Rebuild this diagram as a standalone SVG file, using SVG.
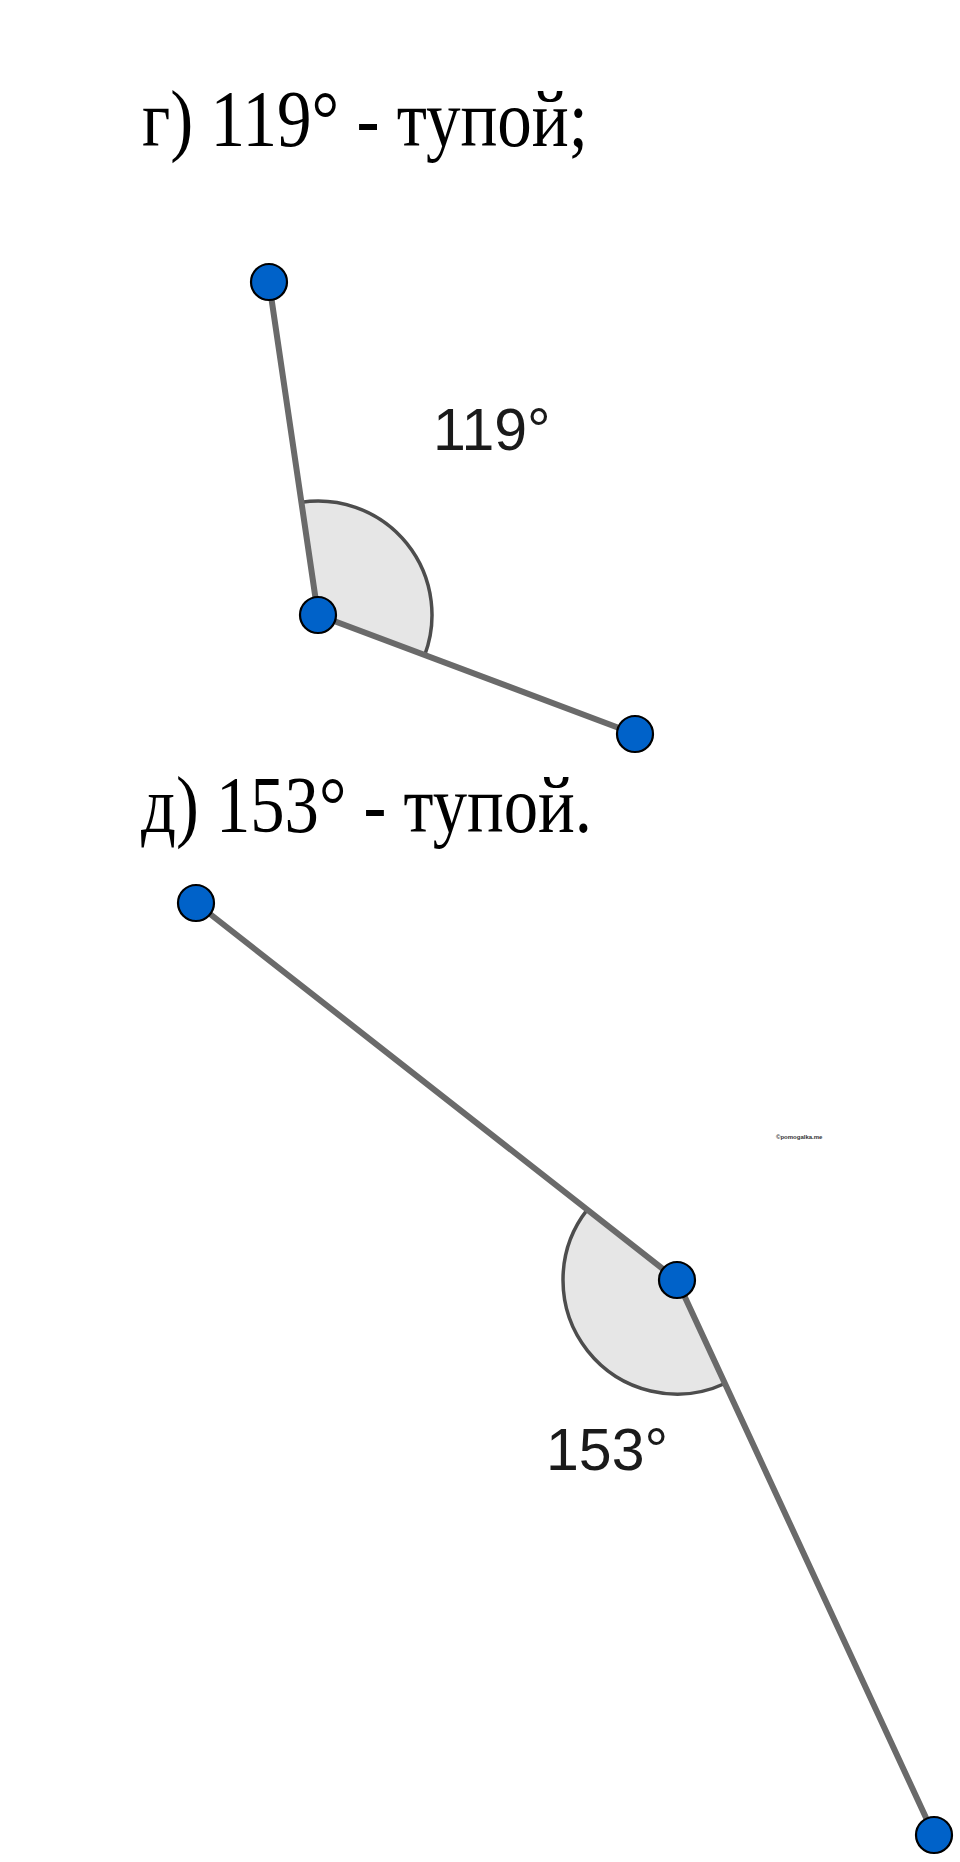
<svg xmlns="http://www.w3.org/2000/svg" width="960" height="1862" viewBox="0 0 960 1862">
<style>
.title{font-family:"Liberation Serif","Times New Roman",serif;font-size:81px;fill:#000}
.lbl{font-family:"Liberation Sans",Arial,sans-serif;font-size:59px;fill:#1a1a1a}
.seg{stroke:#6a6a6a;stroke-width:6;stroke-linecap:round;fill:none}
.sector{fill:#e6e6e6;stroke:#4d4d4d;stroke-width:3.5;stroke-linejoin:round}
.pt{fill:#0062C9;stroke:#000;stroke-width:2.2}
.wm{font-family:"Liberation Sans",Arial,sans-serif;font-size:6px;font-weight:bold;fill:#333}
</style>
<rect width="960" height="1862" fill="#fff"/>
<g id="title-g"><text class="title" x="142" y="146" textLength="446" lengthAdjust="spacingAndGlyphs">г) 119° - тупой;</text></g>
<g id="title-d"><text class="title" x="141" y="832" textLength="451" lengthAdjust="spacingAndGlyphs">д) 153° - тупой.</text></g>

<g id="sector-119"><path class="sector" d="M318,615 L301.4,502.2 A114,114 0 0 1 424.7,655.1 Z"/></g>
<g id="sector-153"><path class="sector" d="M677,1280 L587.3,1209.7 A114,114 0 0 0 724.9,1383.5 Z"/></g>

<g id="connectors">
<line class="seg" x1="269" y1="282" x2="318" y2="615"/>
<line class="seg" x1="318" y1="615" x2="635" y2="734"/>
<line class="seg" x1="196" y1="903" x2="677" y2="1280"/>
<line class="seg" x1="677" y1="1280" x2="934" y2="1835"/>
</g>

<g id="p1-top"><circle class="pt" cx="269" cy="282" r="18"/></g>
<g id="p1-vertex"><circle class="pt" cx="318" cy="615" r="18"/></g>
<g id="p1-right"><circle class="pt" cx="635" cy="734" r="18"/></g>
<g id="p2-top"><circle class="pt" cx="196" cy="903" r="18"/></g>
<g id="p2-vertex"><circle class="pt" cx="677" cy="1280" r="18"/></g>
<g id="p2-bottom"><circle class="pt" cx="934" cy="1835" r="18"/></g>

<g id="label-119"><text class="lbl" x="433" y="450">119°</text></g>
<g id="label-153"><text class="lbl" x="546" y="1470">153°</text></g>
<g id="watermark"><text class="wm" x="776" y="1139">©pomogalka.me</text></g>
</svg>
